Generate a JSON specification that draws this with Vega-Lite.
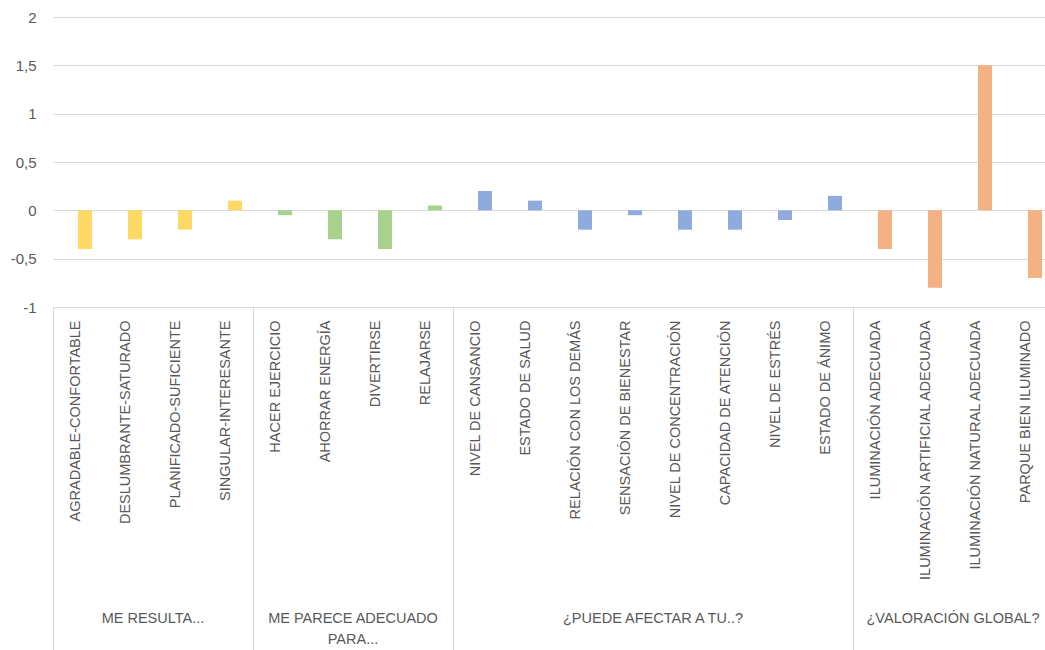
{
  "$schema": "https://vega.github.io/schema/vega-lite/v6.json",
  "width": 992,
  "height": 290,
  "autosize": {"type": "none"},
  "padding": {"left": 53, "top": 17, "right": 0, "bottom": 343},
  "background": "white",
  "config": {
    "view": {"stroke": null},
    "font": "Liberation Sans",
    "axis": {"labelColor": "#595959", "labelFont": "Liberation Sans"}
  },
  "data": {
    "values": [
      {"grupo": "ME RESULTA...", "item": "AGRADABLE-CONFORTABLE", "valor": -0.4},
      {"grupo": "ME RESULTA...", "item": "DESLUMBRANTE-SATURADO", "valor": -0.3},
      {"grupo": "ME RESULTA...", "item": "PLANIFICADO-SUFICIENTE", "valor": -0.2},
      {"grupo": "ME RESULTA...", "item": "SINGULAR-INTERESANTE", "valor": 0.1},
      {"grupo": "ME PARECE ADECUADO PARA...", "item": "HACER EJERCICIO", "valor": -0.05},
      {"grupo": "ME PARECE ADECUADO PARA...", "item": "AHORRAR ENERGÍA", "valor": -0.3},
      {"grupo": "ME PARECE ADECUADO PARA...", "item": "DIVERTIRSE", "valor": -0.4},
      {"grupo": "ME PARECE ADECUADO PARA...", "item": "RELAJARSE", "valor": 0.05},
      {"grupo": "¿PUEDE AFECTAR A TU..?", "item": "NIVEL DE CANSANCIO", "valor": 0.2},
      {"grupo": "¿PUEDE AFECTAR A TU..?", "item": "ESTADO DE SALUD", "valor": 0.1},
      {"grupo": "¿PUEDE AFECTAR A TU..?", "item": "RELACIÓN CON LOS DEMÁS", "valor": -0.2},
      {"grupo": "¿PUEDE AFECTAR A TU..?", "item": "SENSACIÓN DE BIENESTAR", "valor": -0.05},
      {"grupo": "¿PUEDE AFECTAR A TU..?", "item": "NIVEL DE CONCENTRACIÓN", "valor": -0.2},
      {"grupo": "¿PUEDE AFECTAR A TU..?", "item": "CAPACIDAD DE ATENCIÓN", "valor": -0.2},
      {"grupo": "¿PUEDE AFECTAR A TU..?", "item": "NIVEL DE ESTRÉS", "valor": -0.1},
      {"grupo": "¿PUEDE AFECTAR A TU..?", "item": "ESTADO DE ÁNIMO", "valor": 0.15},
      {"grupo": "¿VALORACIÓN GLOBAL?", "item": "ILUMINACIÓN ADECUADA", "valor": -0.4},
      {"grupo": "¿VALORACIÓN GLOBAL?", "item": "ILUMINACIÓN ARTIFICIAL ADECUADA", "valor": -0.8},
      {"grupo": "¿VALORACIÓN GLOBAL?", "item": "ILUMINACIÓN NATURAL ADECUADA", "valor": 1.5},
      {"grupo": "¿VALORACIÓN GLOBAL?", "item": "PARQUE BIEN ILUMINADO", "valor": -0.7}
    ]
  },
  "layer": [
    {
      "mark": {"type": "bar", "width": {"band": 0.28}, "xOffset": 7},
      "encoding": {
        "x": {
          "field": "item",
          "type": "nominal",
          "sort": null,
          "scale": {"paddingInner": 0, "paddingOuter": 0, "range": [0, 1000]},
          "axis": {
            "orient": "bottom",
            "title": null,
            "labelAngle": -90,
            "labelFontSize": 14.5,
            "labelPadding": 13,
            "labelOffset": -2,
            "labelLimit": 0,
            "labelOverlap": false,
            "ticks": false,
            "domain": false
          }
        },
        "y": {
          "field": "valor",
          "type": "quantitative",
          "scale": {"domain": [-1, 2], "nice": false, "zero": false},
          "axis": {
            "title": null,
            "values": [-1, -0.5, 0, 0.5, 1, 1.5, 2],
            "labelExpr": "replace(toString(datum.value), '.', ',')",
            "labelFontSize": 15,
            "labelPadding": 17,
            "grid": true,
            "gridColor": "#d9d9d9",
            "ticks": false,
            "domain": false
          }
        },
        "color": {
          "field": "grupo",
          "type": "nominal",
          "scale": {
            "domain": ["ME RESULTA...", "ME PARECE ADECUADO PARA...", "¿PUEDE AFECTAR A TU..?", "¿VALORACIÓN GLOBAL?"],
            "range": ["#FFD966", "#A9D18E", "#8FAADC", "#F4B183"]
          },
          "legend": null
        }
      }
    },
    {
      "mark": {"type": "rule", "strokeOpacity": 0},
      "encoding": {
        "x": {
          "field": "item",
          "type": "nominal",
          "sort": null,
          "axis": {
            "orient": "bottom",
            "title": null,
            "values": ["AGRADABLE-CONFORTABLE", "HACER EJERCICIO", "NIVEL DE CANSANCIO", "ILUMINACIÓN ADECUADA"],
            "bandPosition": 0,
            "labels": false,
            "ticks": true,
            "tickSize": 343,
            "tickColor": "#d9d9d9",
            "tickWidth": 1,
            "domain": false
          }
        }
      }
    },
    {
      "mark": {"type": "rule", "strokeOpacity": 0},
      "encoding": {
        "x": {
          "field": "item",
          "type": "nominal",
          "sort": null,
          "axis": {
            "orient": "bottom",
            "title": null,
            "values": ["DESLUMBRANTE-SATURADO", "AHORRAR ENERGÍA", "SENSACIÓN DE BIENESTAR", "ILUMINACIÓN ARTIFICIAL ADECUADA"],
            "labelAngle": 0,
            "labelAlign": "center",
            "labelBaseline": "top",
            "labelFontSize": 14.5,
            "labelLineHeight": 21,
            "labelPadding": 304,
            "labelOffset": 25,
            "labelLimit": 0,
            "labelOverlap": false,
            "labelExpr": "datum.value == 'DESLUMBRANTE-SATURADO' ? 'ME RESULTA...' : datum.value == 'AHORRAR ENERGÍA' ? ['ME PARECE ADECUADO', 'PARA...'] : datum.value == 'SENSACIÓN DE BIENESTAR' ? '¿PUEDE AFECTAR A TU..?' : '¿VALORACIÓN GLOBAL?'",
            "ticks": false,
            "domain": false
          }
        }
      }
    }
  ],
  "resolve": {"axis": {"x": "independent"}}
}
